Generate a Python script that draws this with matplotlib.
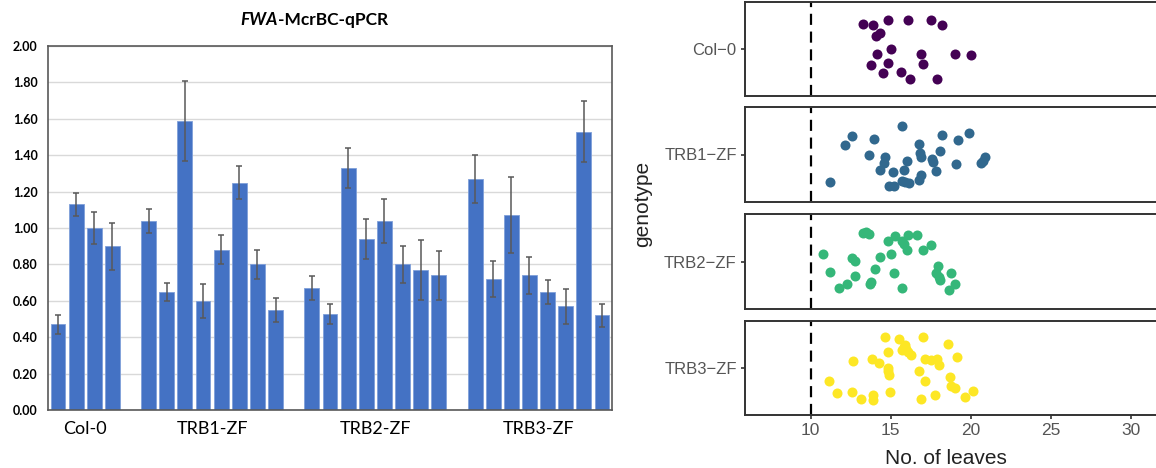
import matplotlib
matplotlib.use("Agg")
import matplotlib.pyplot as plt
import numpy as np

# ---- left: FWA McrBC-qPCR bars ----
groups = ["Col-0", "TRB1-ZF", "TRB2-ZF", "TRB3-ZF"]
col0_vals = [0.47, 1.13, 1.00, 0.90]
col0_err = [0.05, 0.065, 0.09, 0.13]
trb1_vals = [1.04, 0.65, 1.59, 0.60, 0.88, 1.25, 0.80, 0.55]
trb1_err = [0.065, 0.05, 0.22, 0.095, 0.08, 0.09, 0.08, 0.065]
trb2_vals = [0.67, 0.53, 1.33, 0.94, 1.04, 0.80, 0.77, 0.74]
trb2_err = [0.065, 0.055, 0.11, 0.11, 0.12, 0.10, 0.165, 0.135]
trb3_vals = [1.27, 0.72, 1.07, 0.74, 0.65, 0.57, 1.53, 0.52]
trb3_err = [0.13, 0.10, 0.21, 0.10, 0.065, 0.095, 0.17, 0.065]

# ---- right: leaf counts, (x, jitter) per genotype ----
geno = ["Col\u22120", "TRB1\u2212ZF", "TRB2\u2212ZF", "TRB3\u2212ZF"]
geno_col = ["#440154", "#31688E", "#35B779", "#FDE725"]
col0_x = [13.27, 13.87, 14.81, 16.09, 17.53, 18.23, 14.07, 14.32, 14.12, 15.0,
          16.87, 19.05, 20.02, 13.77, 14.81, 17.0, 14.55, 15.66, 16.23, 17.9]
col0_y = [0.32, 0.31, 0.37, 0.37, 0.37, 0.31, 0.16, 0.20, -0.07, 0.0,
          -0.07, -0.07, -0.08, -0.20, -0.18, -0.19, -0.31, -0.29, -0.38, -0.38]
trb1_x = [15.72, 12.59, 12.14, 13.95, 18.23, 19.88, 19.18, 16.75, 13.62, 16.85, 18.11,
          14.65, 16.91, 16.05, 17.57, 17.65, 20.91, 20.78, 20.66, 19.09, 14.61, 14.32,
          15.14, 15.84, 17.82, 16.87, 16.75, 11.19, 14.90, 15.23, 15.68, 16.17, 15.88]
trb1_y = [0.36, 0.23, 0.12, 0.20, 0.25, 0.27, 0.18, 0.13, 0.0, 0.02, 0.05,
          -0.03, -0.03, -0.08, -0.06, -0.09, -0.03, -0.08, -0.11, -0.12, -0.11, -0.20,
          -0.22, -0.20, -0.21, -0.26, -0.32, -0.35, -0.40, -0.40, -0.34, -0.36, -0.35]
trb2_x = [13.25, 13.62, 13.46, 14.86, 15.27, 16.09, 16.67, 15.68, 15.84, 16.05, 17.53,
          17.0, 10.78, 12.59, 12.76, 14.36, 15.02, 11.23, 12.76, 12.30, 11.77, 13.70,
          13.79, 14.03, 15.19, 15.68, 17.98, 17.82, 18.02, 18.11, 18.77, 19.01, 18.64]
trb2_y = [0.36, 0.35, 0.37, 0.26, 0.32, 0.34, 0.33, 0.26, 0.22, 0.15, 0.21,
          0.14, 0.10, 0.05, 0.01, 0.06, 0.10, -0.13, -0.18, -0.28, -0.33, -0.29,
          -0.26, -0.10, -0.15, -0.33, -0.06, -0.15, -0.19, -0.23, -0.15, -0.28, -0.36]
trb3_x = [14.63, 15.51, 17.0, 18.56, 14.81, 15.84, 15.97, 16.09, 16.26, 12.63, 13.83,
          14.28, 14.81, 14.86, 14.90, 16.75, 17.12, 17.53, 17.90, 18.02, 19.14, 11.15,
          11.65, 12.59, 13.17, 13.91, 13.91, 14.94, 17.16, 16.91, 17.74, 18.68, 18.77,
          19.05, 19.63, 20.12, 15.88, 15.68]
trb3_y = [0.40, 0.37, 0.39, 0.31, 0.21, 0.27, 0.24, 0.21, 0.17, 0.09, 0.11,
          0.06, 0.0, -0.04, -0.09, -0.04, 0.11, 0.10, 0.11, 0.04, 0.14, -0.17,
          -0.32, -0.31, -0.39, -0.35, -0.41, -0.31, -0.16, -0.40, -0.34, -0.11, -0.23,
          -0.25, -0.37, -0.29, 0.30, 0.23]

W, H = 1156, 468
fig = plt.figure(figsize=(W / 100, H / 100), dpi=100)

# bar chart
bar_sets = [(col0_vals, col0_err), (trb1_vals, trb1_err),
            (trb2_vals, trb2_err), (trb3_vals, trb3_err)]
ax = fig.add_axes([48 / W, 1 - 410 / H, (612 - 48) / W, (410 - 46) / H])
pos = 0
centers = []
for vals, errs in bar_sets:
    xs = np.arange(pos, pos + len(vals))
    ax.bar(xs, vals, width=0.82, color="#4472C4", edgecolor="#7f9fd9",
           linewidth=0.6, zorder=2)
    ax.errorbar(xs, vals, yerr=errs, fmt="none", ecolor="#595959",
                elinewidth=1.1, capsize=2.5, capthick=1.1, zorder=3)
    centers.append(xs.mean())
    pos += len(vals) + 1
ax.set_xlim(-0.55, pos - 1.45)
ax.set_ylim(0, 2.0)
ax.set_yticks(np.arange(0, 2.01, 0.2))
ax.set_yticklabels(["%.2f" % v for v in np.arange(0, 2.01, 0.2)],
                   fontsize=9, fontweight="bold", family="Lato")
ax.tick_params(axis="y", length=0, pad=7.5)
ax.grid(axis="y", color="#d9d9d9", linewidth=1, zorder=0)
ax.set_xticks(centers)
ax.set_xticklabels(groups, fontsize=13, family="Lato")
ax.tick_params(axis="x", length=0, pad=8)
for s in ax.spines.values():
    s.set_color("#595959")
    s.set_linewidth(1.2)
fig.text(278 / W, 1 - 20 / H, "FWA", ha="right", va="center", fontsize=12.5,
         fontweight="bold", fontstyle="italic", family="Lato")
fig.text(278 / W, 1 - 20 / H, "-McrBC-qPCR", ha="left", va="center",
         fontsize=12.5, fontweight="bold", family="Lato")

# strip plots faceted by genotype
facets = [(2, 96), (107, 202), (214, 309), (321, 415)]
xs_all = [col0_x, trb1_x, trb2_x, trb3_x]
ys_all = [col0_y, trb1_y, trb2_y, trb3_y]
for i, (top, bot) in enumerate(facets):
    a = fig.add_axes([745 / W, 1 - bot / H, 1.01 - 745 / W, (bot - top) / H])
    a.scatter(xs_all[i], ys_all[i], s=52, color=geno_col[i], linewidths=0,
              zorder=3)
    a.axvline(10, color="black", linestyle=(0, (5, 3)), linewidth=1.6, zorder=2)
    a.set_xlim(5.9, 32.3)
    a.set_ylim(-0.6, 0.6)
    a.set_yticks([0])
    a.set_yticklabels([geno[i]], fontsize=12, color="#555555",
                      family="Liberation Sans")
    a.tick_params(axis="y", length=3, width=1.2, color="#333333", pad=3)
    if i == 3:
        a.set_xticks([10, 15, 20, 25, 30])
        a.tick_params(axis="x", length=3, width=1.2, color="#333333", pad=3,
                      labelsize=12.5, labelcolor="#555555")
        for lab in a.get_xticklabels():
            lab.set_family("Liberation Sans")
    else:
        a.set_xticks([])
    for s in a.spines.values():
        s.set_color("#333333")
        s.set_linewidth(1.4)

fig.text(946 / W, 1 - 459 / H, "No. of leaves", ha="center", va="center",
         fontsize=15, color="#222222", family="Liberation Sans")
fig.text(643 / W, 1 - 204 / H, "genotype", rotation=90, ha="center",
         va="center", fontsize=15, color="#222222", family="Liberation Sans")

fig.savefig("out.png", dpi=100)
